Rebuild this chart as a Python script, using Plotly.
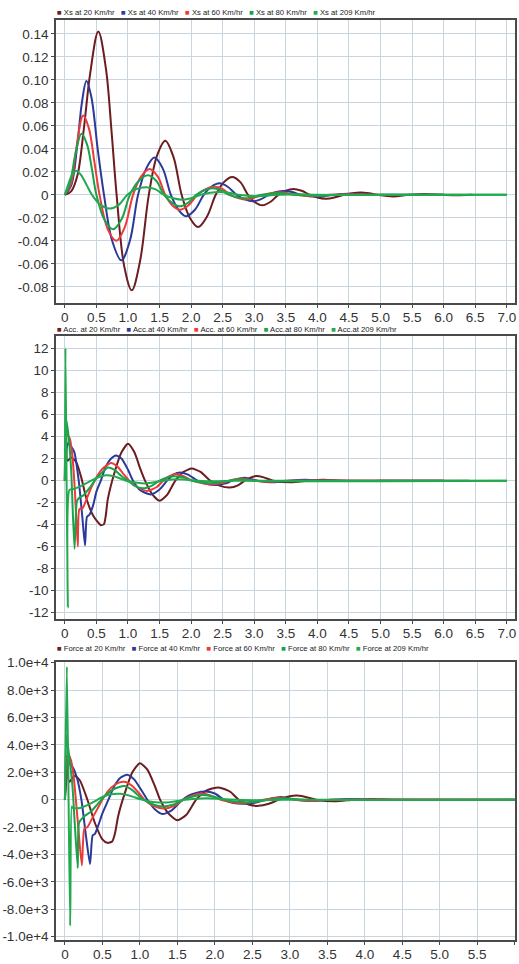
import plotly.graph_objects as go

# ---------------- data ----------------
speeds = ["20", "40", "60", "80", "209"]
colors = ["#6d1c20", "#2b3a98", "#ee3a3a", "#1aa14a", "#22ab4e"]

# Panel 1: Xs
xs_t = [
    [0, 0.1, 0.2, 0.3, 0.4, 0.53, 0.65, 0.74, 0.82, 0.94, 1.06, 1.19, 1.33, 1.46, 1.59, 1.72, 1.85, 1.98, 2.11, 2.25, 2.39, 2.52, 2.65, 2.78, 2.9, 3.0, 3.13, 3.26, 3.38, 3.5, 3.62, 3.75, 3.88, 4.0, 4.14, 4.28, 4.42, 4.55, 4.69, 4.82, 4.95, 5.2, 5.45, 5.7, 5.95, 6.2, 6.45],
    [0, 0.1, 0.2, 0.27, 0.342, 0.42, 0.52, 0.62, 0.75, 0.895, 1.03, 1.16, 1.29, 1.42, 1.55, 1.68, 1.8, 1.92, 2.06, 2.2, 2.32, 2.45, 2.58, 2.72, 2.85, 2.98, 3.1, 3.23, 3.35, 3.47, 3.6, 3.75, 3.99, 4.25, 4.5, 4.8, 5.2, 6.0],
    [0, 0.1, 0.18, 0.29, 0.38, 0.47, 0.55, 0.68, 0.816, 0.95, 1.08, 1.21, 1.34, 1.47, 1.59, 1.7, 1.82, 1.96, 2.1, 2.23, 2.37, 2.5, 2.62, 2.88, 3.14, 3.4, 3.66, 3.92, 4.2, 4.5, 4.8, 6.0],
    [0, 0.08, 0.17, 0.263, 0.35, 0.43, 0.5, 0.63, 0.763, 0.9, 1.03, 1.17, 1.316, 1.45, 1.57, 1.7, 1.82, 1.95, 2.08, 2.21, 2.34, 2.47, 2.6, 2.86, 3.12, 3.38, 3.65, 4.0, 4.4, 5.0, 7.0],
    [0, 0.06, 0.12, 0.184, 0.26, 0.35, 0.43, 0.57, 0.71, 0.85, 0.99, 1.13, 1.28, 1.43, 1.57, 1.72, 1.87, 2.0, 2.15, 2.3, 2.45, 2.6, 2.75, 3.05, 3.35, 3.7, 4.0, 5.0, 7.0],
]
xs_v = [
    [0, 0.003, 0.017, 0.057, 0.105, 0.142, 0.11, 0.055, 0, -0.062, -0.083, -0.058, 0, 0.034, 0.047, 0.033, 0, -0.02, -0.028, -0.019, 0, 0.011, 0.0155, 0.011, 0, -0.006, -0.0091, -0.006, 0, 0.0036, 0.0051, 0.0035, 0, -0.0024, -0.0034, -0.0022, 0, 0.0014, 0.002, 0.0013, 0, -0.0014, 0, 0.0008, 0, -0.0004, 0],
    [0, 0.008, 0.045, 0.08, 0.099, 0.085, 0.04, 0, -0.04, -0.057, -0.04, 0, 0.023, 0.0324, 0.023, 0, -0.013, -0.0186, -0.013, 0, 0.007, 0.01, 0.007, 0, -0.004, -0.0057, -0.004, 0, 0.0024, 0.0034, 0.0024, 0, -0.0017, 0, 0.0009, 0, 0, 0],
    [0, 0.01, 0.04, 0.069, 0.058, 0.028, 0, -0.03, -0.04, -0.028, 0, 0.016, 0.0224, 0.016, 0, -0.009, -0.013, -0.009, 0, 0.005, 0.007, 0.005, 0, -0.004, 0, 0.0022, 0, -0.0012, 0, 0.0006, 0, 0],
    [0, 0.01, 0.036, 0.053, 0.044, 0.022, 0, -0.022, -0.03, -0.021, 0, 0.012, 0.017, 0.012, 0, -0.007, -0.01, -0.007, 0, 0.004, 0.0057, 0.004, 0, -0.003, 0, 0.0016, 0, -0.0008, 0, 0, 0],
    [0, 0.01, 0.018, 0.0207, 0.017, 0.008, 0, -0.009, -0.012, -0.009, 0, 0.005, 0.0066, 0.005, 0, -0.003, -0.0043, -0.003, 0, 0.0018, 0.0025, 0.0018, 0, -0.0012, 0, 0.0006, 0, 0, 0],
]

# Panel 2: Acc
acc_t = [
    [0, 0.02, 0.04, 0.1, 0.18, 0.26, 0.34, 0.45, 0.57, 0.62, 0.65, 0.68, 0.8, 0.9, 1.0, 1.1, 1.2, 1.27, 1.38, 1.5, 1.62, 1.75, 1.88, 2.01, 2.15, 2.3, 2.45, 2.61, 2.75, 2.85, 2.95, 3.03, 3.15, 3.3, 3.58, 3.85, 4.1, 4.4, 4.7, 5.0, 6.4],
    [0, 0.03, 0.05, 0.1, 0.15, 0.22, 0.28, 0.32, 0.35, 0.39, 0.45, 0.5, 0.57, 0.65, 0.73, 0.81, 0.9, 1.0, 1.08, 1.2, 1.36, 1.5, 1.62, 1.72, 1.83, 1.95, 2.1, 2.25, 2.4, 2.55, 2.65, 2.85, 3.05, 3.3, 3.55, 3.8, 4.05, 4.5, 6.0],
    [0, 0.02, 0.05, 0.08, 0.12, 0.16, 0.205, 0.23, 0.28, 0.35, 0.42, 0.5, 0.6, 0.73, 0.83, 0.93, 1.02, 1.15, 1.3, 1.45, 1.56, 1.65, 1.75, 1.88, 2.02, 2.2, 2.35, 2.5, 2.6, 2.8, 3.0, 3.25, 3.5, 6.0],
    [0, 0.02, 0.06, 0.1, 0.153, 0.19, 0.22, 0.3, 0.4, 0.5, 0.6, 0.68, 0.78, 0.9, 1.0, 1.1, 1.23, 1.38, 1.5, 1.62, 1.75, 1.9, 2.0, 2.2, 2.35, 2.5, 2.6, 2.8, 3.0, 7.0],
    [0, 0.01, 0.047, 0.074, 0.15, 0.25, 0.35, 0.45, 0.55, 0.65, 0.78, 0.9, 1.0, 1.15, 1.28, 1.42, 1.55, 1.75, 1.9, 2.1, 2.4, 2.7, 7.0],
]
acc_v = [
    [0, 4.4, 1.8, 2.1, 1.7, 0.3, -1.6, -3.2, -4.05, -3.95, -3.1, -1.7, 1.0, 2.6, 3.36, 2.6, 1.0, 0, -1.2, -1.83, -1.3, 0, 0.8, 1.1, 0.8, 0, -0.45, -0.63, -0.4, 0, 0.3, 0.42, 0.3, 0, -0.15, 0, 0.08, 0, -0.04, 0, 0],
    [0, 3.0, 3.4, 3.1, 2.6, 0, -3.5, -5.9, -3.3, -3.1, -2.2, -1.0, 0, 1.3, 2.0, 2.3, 2.0, 1.0, 0, -0.9, -1.25, -0.8, 0, 0.55, 0.75, 0.55, 0, -0.3, -0.39, -0.25, 0, 0.27, 0, -0.15, 0, 0.08, 0, 0, 0],
    [0, 4.4, 4.1, 3.8, 2.2, -1.0, -6.0, -2.6, -2.5, -1.6, -0.6, 0.3, 1.1, 1.6, 1.3, 0.6, 0, -0.6, -0.93, -0.6, 0, 0.4, 0.6, 0.4, 0, -0.25, -0.33, -0.2, 0, 0.2, 0, -0.1, 0, 0],
    [0, 5.6, 4.0, 1.0, -6.2, -1.9, -1.6, -1.3, -0.6, 0.2, 0.8, 1.2, 1.0, 0.4, 0, -0.45, -0.7, -0.45, 0, 0.3, 0.4, 0.25, 0, -0.2, -0.22, -0.1, 0, 0.12, 0, 0],
    [0, 12.05, -11.55, -0.84, -0.75, -0.5, -0.2, 0.1, 0.35, 0.5, 0.4, 0.15, -0.05, -0.2, -0.25, -0.15, 0, 0.12, 0.1, 0, -0.05, 0, 0],
]

# Panel 3: Force
force_t = [
    [0, 0.015, 0.04, 0.055, 0.13, 0.2, 0.3, 0.4, 0.5, 0.567, 0.63, 0.67, 0.71, 0.8, 0.9, 1.0, 1.1, 1.2, 1.27, 1.38, 1.5, 1.62, 1.75, 1.88, 2.05, 2.2, 2.32, 2.45, 2.58, 2.72, 2.85, 3.0, 3.1, 3.25, 3.35, 3.6, 3.85, 4.1, 4.4, 6.0],
    [0, 0.02, 0.04, 0.1, 0.16, 0.22, 0.28, 0.335, 0.37, 0.4, 0.45, 0.5, 0.58, 0.66, 0.74, 0.83, 0.92, 1.02, 1.1, 1.2, 1.3, 1.42, 1.55, 1.65, 1.75, 1.87, 2.0, 2.12, 2.25, 2.4, 2.55, 2.68, 2.88, 3.08, 3.3, 3.55, 3.8, 4.05, 6.0],
    [0, 0.02, 0.04, 0.08, 0.12, 0.17, 0.226, 0.26, 0.3, 0.36, 0.44, 0.52, 0.62, 0.72, 0.81, 0.9, 1.0, 1.06, 1.18, 1.32, 1.46, 1.58, 1.7, 1.82, 1.95, 2.08, 2.25, 2.38, 2.52, 2.65, 2.85, 3.05, 3.3, 3.55, 6.0],
    [0, 0.02, 0.05, 0.1, 0.171, 0.19, 0.26, 0.34, 0.44, 0.54, 0.66, 0.79, 0.9, 1.0, 1.05, 1.18, 1.3, 1.45, 1.58, 1.72, 1.85, 2.0, 2.12, 2.3, 2.45, 2.6, 2.72, 2.95, 3.2, 6.0],
    [0, 0.026, 0.07, 0.09, 0.1, 0.2, 0.3, 0.4, 0.5, 0.62, 0.74, 0.86, 1.0, 1.1, 1.25, 1.4, 1.55, 1.7, 1.9, 2.1, 2.3, 2.6, 2.9, 6.0],
]
force_v = [
    [0, 1200, 3500, 1300, 1750, 1400, 0, -1700, -2900, -3150, -3050, -2400, -1200, 500, 2000, 2670, 2200, 1000, 0, -1000, -1500, -1100, 0, 650, 900, 600, 0, -350, -450, -300, 0, 250, 300, 150, 0, -120, 0, 60, 0, 0],
    [0, 2200, 2700, 2400, 1600, 0, -2600, -4700, -2600, -2500, -1800, -1000, 0, 1000, 1600, 1830, 1500, 700, 0, -700, -1050, -800, -100, 300, 500, 600, 450, 0, -250, -300, -200, 0, 200, 0, -100, 0, 50, 0, 0],
    [0, 3000, 3300, 2900, 1500, -1500, -4800, -2100, -2000, -1400, -600, 200, 900, 1250, 1300, 1000, 400, 0, -450, -650, -450, 0, 300, 450, 300, 0, -200, -250, -150, 0, 150, 0, -80, 0, 0],
    [0, 4700, 3500, 1000, -5000, -1650, -1200, -900, -300, 300, 800, 1000, 700, 200, 0, -350, -500, -350, 0, 250, 350, 200, 0, -150, -180, -100, 0, 80, 0, 0],
    [0, 9700, -9200, -500, -600, -600, -400, -100, 200, 400, 430, 300, 50, -100, -200, -180, -50, 50, 100, 50, 0, -40, 0, 0],
]

x_ticks_a = [0, 0.5, 1, 1.5, 2, 2.5, 3, 3.5, 4, 4.5, 5, 5.5, 6, 6.5, 7]
x_text_a = ["0", "0.5", "1.0", "1.5", "2.0", "2.5", "3.0", "3.5", "4.0", "4.5", "5.0", "5.5", "6.0", "6.5", "7.0"]
x_ticks_b = [0, 0.5, 1, 1.5, 2, 2.5, 3, 3.5, 4, 4.5, 5, 5.5, 6]
x_text_b = ["0", "0.5", "1.0", "1.5", "2.0", "2.5", "3.0", "3.5", "4.0", "4.5", "5.0", "5.5", "6.0"]

y1_ticks = [0.14, 0.12, 0.10, 0.08, 0.06, 0.04, 0.02, 0, -0.02, -0.04, -0.06, -0.08]
y1_text = ["0.14", "0.12", "0.10", "0.08", "0.06", "0.04", "0.02", "0", "-0.02", "-0.04", "-0.06", "-0.08"]
y2_ticks = [12, 10, 8, 6, 4, 2, 0, -2, -4, -6, -8, -10, -12]
y2_text = ["12", "10", "8", "6", "4", "2", "0", "-2", "-4", "-6", "-8", "-10", "-12"]
y3_ticks = [10000, 8000, 6000, 4000, 2000, 0, -2000, -4000, -6000, -8000, -10000]
y3_text = ["1.0e+4", "8.0e+3", "6.0e+3", "4.0e+3", "2.0e+3", "0", "-2.0e+3", "-4.0e+3", "-6.0e+3", "-8.0e+3", "-1.0e+4"]

legend_names = [["Xs at"] * 5,
                ["Acc. at", "Acc.at", "Acc. at", "Acc.at", "Acc.at"],
                ["Force at"] * 5]

# ---------------- figure ----------------
W, H = 519, 964
mt, mb, ml, mr = 20, 14, 53, 2
ph = H - mt - mb

def dom(top_px, bot_px):
    return [(H - mb - bot_px) / ph, (H - mb - top_px) / ph]

fig = go.Figure()

panels = [(xs_t, xs_v, "x", "y"), (acc_t, acc_v, "x2", "y2"), (force_t, force_v, "x3", "y3")]
for pi, (tt, vv, xa, ya) in enumerate(panels):
    for si in range(5):
        fig.add_trace(go.Scatter(
            x=tt[si], y=vv[si], xaxis=xa, yaxis=ya, mode="lines",
            line=dict(color=colors[si], width=2, shape="spline", smoothing=0.6 if pi else 1.0),
            showlegend=False, hoverinfo="skip"))

font_ticks = dict(family="Liberation Sans, Arial, sans-serif", size=13.5, color="#333333")
axis_common = dict(showline=True, linecolor="#4a4a4a", linewidth=1.5, mirror=True,
                   showgrid=True, gridcolor="#c9d6df", gridwidth=1, zeroline=False,
                   ticks="outside", ticklen=3, tickcolor="#4a4a4a", tickfont=font_ticks)
xaxis_extra = dict(ticklabelstandoff=-2)

fig.update_layout(
    width=W, height=H, margin=dict(l=ml, r=mr, t=mt, b=mb),
    paper_bgcolor="white", plot_bgcolor="white", showlegend=False,
    xaxis=dict(domain=[0, 1], anchor="y", range=[-0.14, 7.13], tickvals=x_ticks_a, ticktext=x_text_a, **axis_common, **xaxis_extra),
    yaxis=dict(domain=dom(20, 306), anchor="x", range=[-0.094, 0.152], tickvals=y1_ticks, ticktext=y1_text, **axis_common),
    xaxis2=dict(domain=[0, 1], anchor="y2", range=[-0.14, 7.13], tickvals=x_ticks_a, ticktext=x_text_a, **axis_common, **xaxis_extra),
    yaxis2=dict(domain=dom(339, 626), anchor="x2", range=[-12.63, 13.2], tickvals=y2_ticks, ticktext=y2_text, **axis_common),
    xaxis3=dict(domain=[0, 1], anchor="y3", range=[-0.119, 6.004], tickvals=x_ticks_b, ticktext=x_text_b, **axis_common, **xaxis_extra),
    yaxis3=dict(domain=dom(669, 950), anchor="x3", range=[-10240, 10050], tickvals=y3_ticks, ticktext=y3_text, **axis_common),
)

legend_y_px = [12, 333, 655]
for pi in range(3):
    parts = []
    for si in range(5):
        parts.append("<span style='color:%s'>■</span> %s %s Km/hr" % (colors[si], legend_names[pi][si], speeds[si]))
    txt = "   ".join(parts)
    fig.add_annotation(text=txt, xref="paper", yref="paper", x=0, y=(H - mb - legend_y_px[pi]) / ph,
                       xanchor="left", yanchor="middle", showarrow=False, borderpad=0,
                       font=dict(family="Liberation Sans, Arial, sans-serif", size=7.7, color="#222222"))

fig.write_html("out.html", config={"displayModeBar": False},
               post_script="document.body.style.margin='0';document.body.style.overflow='hidden';")
